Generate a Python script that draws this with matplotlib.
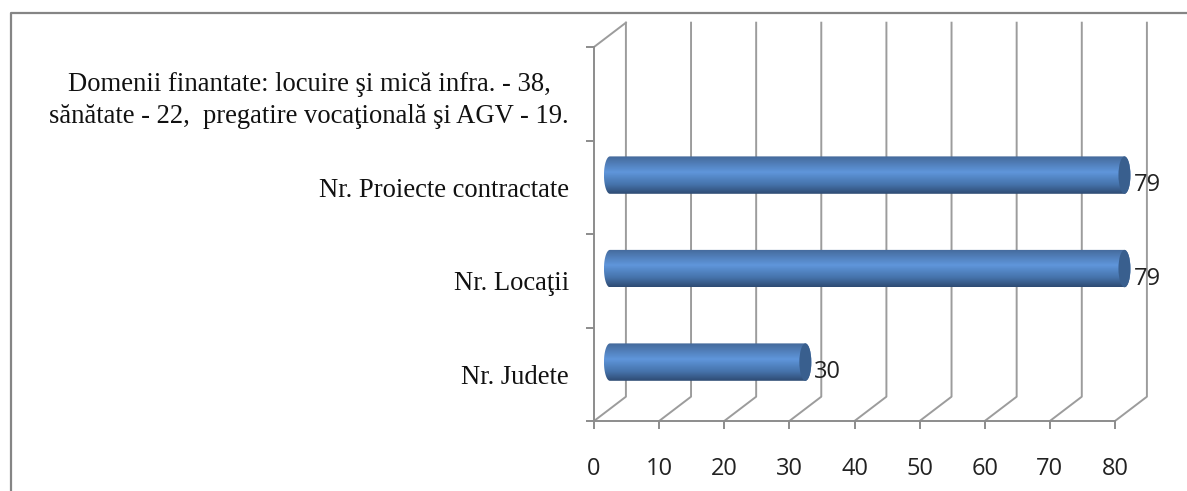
import numpy as np
import matplotlib
matplotlib.use('Agg')
import matplotlib.pyplot as plt
from matplotlib.colors import LinearSegmentedColormap
from matplotlib.lines import Line2D
from matplotlib.patches import Ellipse, PathPatch
from matplotlib.path import Path

categories = ['Nr. Judete', 'Nr. Locaţii', 'Nr. Proiecte contractate',
              'Domenii finantate: locuire şi mică infra. - 38,\nsănătate - 22,  pregatire vocaţională şi AGV - 19.']
values = [30, 79, 79, None]
x_ticks = [0, 10, 20, 30, 40, 50, 60, 70, 80]

W, H = 1187, 491
axis_color = '#8c8c8c'
grid_color = '#9c9c9c'
depth_x = 4.9    # 3d wall offset, in data units
depth_y = 0.26
bar_h = 0.40
cap_w = 0.92
cmap = LinearSegmentedColormap.from_list('tube', [(0, '#44699a'), (0.42, '#5f96db'), (0.75, '#4673ab'), (1, '#2e4b73')])

fig = plt.figure(figsize=(W / 100, H / 100), dpi=100)
ax = fig.add_axes([594 / W, 1 - 421 / H, 521 / W, 374 / H])
ax.patch.set_visible(False)

# outer frame, open on the right and at the bottom
fig.add_artist(Line2D([11 / W, 11 / W, 1], [0, 1 - 13 / H, 1 - 13 / H], color='#858585', lw=1.6))

# back wall
for x in x_ticks:
    ax.plot([x, x + depth_x, x + depth_x], [0, depth_y, 4 + depth_y], color=grid_color, lw=1.4, clip_on=False, zorder=1)
ax.plot([0, depth_x], [4, 4 + depth_y], color=grid_color, lw=1.4, clip_on=False, zorder=1)

# cylinders
gradient = np.linspace(0, 1, 128).reshape(-1, 1)
for i, v in enumerate(values):
    if v is None:
        continue
    yc = i + 0.5 + depth_y / 2
    x0 = depth_x / 2
    x1 = v + depth_x / 2
    t = np.linspace(-np.pi / 2, np.pi / 2, 40)
    xs = np.r_[x0 - cap_w * np.cos(t), x1 + cap_w * np.cos(t[::-1])]
    ys = np.r_[yc + bar_h / 2 * np.sin(t), yc + bar_h / 2 * np.sin(t[::-1])]
    shape = PathPatch(Path(np.c_[xs, ys]), fc='none', ec='none', clip_on=False)
    ax.add_patch(shape)
    im = ax.imshow(gradient, cmap=cmap, aspect='auto', origin='upper', zorder=2,
                   extent=[x0 - cap_w, x1 + cap_w, yc - bar_h / 2, yc + bar_h / 2])
    im.set_clip_box(fig.bbox)
    im.set_clip_path(shape)
    ax.add_patch(Ellipse((x1, yc), 2 * cap_w, bar_h, fc='#395f8e', ec='none', clip_on=False, zorder=3))
    ax.annotate(str(v), (v, i + 0.5), xytext=(18, 1.5), textcoords='offset points', va='center', ha='left',
                fontsize=17, family='Open Sans', color='#222222', annotation_clip=False, zorder=4)

ax.set_xlim(0, 80)
ax.set_ylim(0, 4)

for side in ['top', 'right']:
    ax.spines[side].set_visible(False)
for side in ['left', 'bottom']:
    ax.spines[side].set_color(axis_color)
    ax.spines[side].set_linewidth(1.4)

ax.set_xticks(x_ticks)
ax.set_yticks(range(5))
ax.set_yticklabels([])
ax.tick_params(axis='both', which='major', length=6, width=1.4, color=axis_color)
ax.tick_params(axis='x', pad=20, labelsize=17, labelcolor='#222222')
for lab in ax.get_xticklabels():
    lab.set_family('Open Sans')

ax.set_yticks(np.arange(len(categories)) + 0.5, minor=True)
ax.set_yticklabels(categories, minor=True, family='Liberation Serif', fontsize=19.2, color='#111111', linespacing=1.4)
ax.tick_params(axis='y', which='minor', length=0, pad=18)
for lab in ax.get_yticklabels(minor=True):
    lab.set_multialignment('center')

fig.savefig('out.png', dpi=100)
